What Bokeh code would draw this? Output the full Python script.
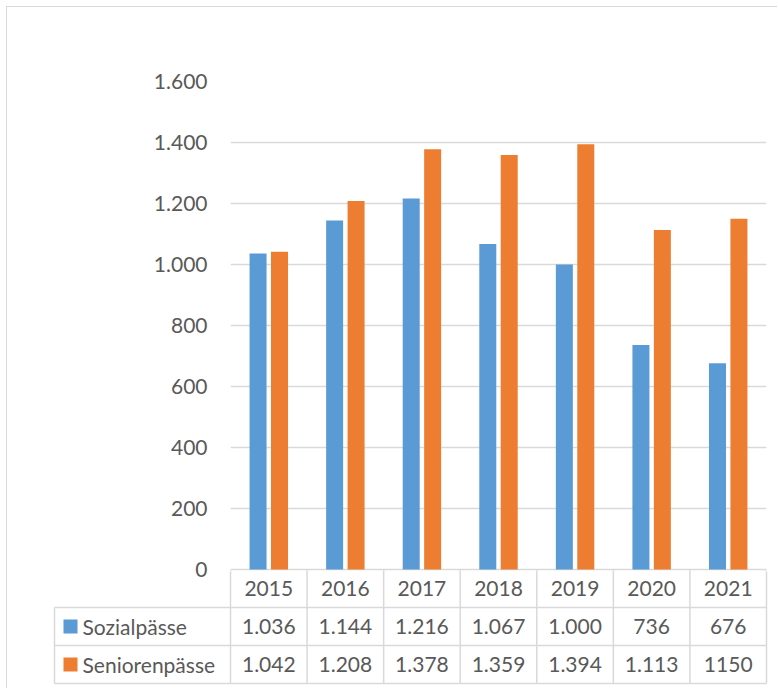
from bokeh.plotting import figure
from bokeh.models import Range1d, FixedTicker, CustomJSTickFormatter, ColumnDataSource
from bokeh.embed import file_html
from bokeh.resources import INLINE
from bokeh.core.properties import value

# ---------------- data ----------------
years = ["2015", "2016", "2017", "2018", "2019", "2020", "2021"]
sozial = [1036, 1144, 1216, 1067, 1000, 736, 676]
senioren = [1042, 1208, 1378, 1359, 1394, 1113, 1150]
sozial_labels = ["1.036", "1.144", "1.216", "1.067", "1.000", "736", "676"]
senioren_labels = ["1.042", "1.208", "1.378", "1.359", "1.394", "1.113", "1150"]
series_names = ["Sozialpässe", "Seniorenpässe"]
y_ticks = [0, 200, 400, 600, 800, 1000, 1200, 1400, 1600]

# ---------------- style ----------------
BLUE = "#5B9BD5"
ORANGE = "#ED7D31"
TEXT = "#595959"
LINE = "#D9D9D9"
FONT = "Lato"
FS = "21px"

# ---------------- geometry (window pixels) ----------------
OX, OY = 7, 7            # content origin (after outer border)
PL, PR = 230, 766        # plot area left / right
PT, P0 = 81, 569         # y pixel of 1600 and of 0
CH_BOTTOM = 571          # bottom of chart frame
CH_FIG_BOTTOM = 602      # bottom of chart figure (room for the "0" label)
ROW = 38                 # table row height
unit = (PR - PL) / 7.0
pxv = (P0 - PT) / 1600.0
W = 778 - OX

n = len(years)
centers = [i + 0.5 for i in range(n)]
OFF = 0.14
BW = 0.222

chart = figure(width=W, height=CH_FIG_BOTTOM - OY,
               x_range=Range1d(0, n), y_range=Range1d(-(CH_BOTTOM - P0) / pxv, 1600),
               output_backend="svg", toolbar_location=None,
               x_axis_location=None,
               min_border_left=PL - OX, min_border_right=778 - PR,
               min_border_top=PT - OY, min_border_bottom=CH_FIG_BOTTOM - CH_BOTTOM,
               styles={"position": "absolute", "left": "6px", "top": "6px",
                       "border-left": "1px solid #D9D9D9",
                       "border-top": "1px solid #D9D9D9"})
chart.outline_line_color = None
chart.background_fill_color = "white"
chart.border_fill_color = "white"
chart.xgrid.visible = False

src = ColumnDataSource(dict(
    xs=[c - OFF for c in centers], xo=[c + OFF for c in centers],
    sozial=sozial, senioren=senioren, year=years))
chart.vbar(x="xs", top="sozial", width=BW, bottom=0, source=src,
           fill_color=BLUE, line_color=None)
chart.vbar(x="xo", top="senioren", width=BW, bottom=0, source=src,
           fill_color=ORANGE, line_color=None)

# stubs of table column lines that reach up to the 0 line
chart.segment(x0=list(range(n + 1)), x1=list(range(n + 1)),
              y0=[-50] * (n + 1), y1=[0] * (n + 1),
              line_color=LINE, line_width=1.5)

ya = chart.yaxis[0]
ya.ticker = FixedTicker(ticks=y_ticks)
ya.formatter = CustomJSTickFormatter(
    code="return tick.toString().replace(/\\B(?=(\\d{3})+(?!\\d))/g, '.');")
ya.axis_line_color = None
ya.major_tick_line_color = None
ya.minor_tick_line_color = None
ya.major_tick_in = 0
ya.major_tick_out = 0
ya.major_label_standoff = 23
ya.major_label_text_font = FONT
ya.major_label_text_font_size = FS
ya.major_label_text_color = TEXT
chart.ygrid.grid_line_color = LINE
chart.ygrid.grid_line_width = 1.5

# ---------------- data table ----------------
TL, TR = 52, 768
TB = 688
table = figure(width=W, height=TB - CH_BOTTOM,
               x_range=Range1d((TL - PL) / unit, (TR - PL) / unit),
               y_range=Range1d(-(TB - (P0 + 3 * ROW)) / ROW, 3 - (CH_BOTTOM - P0) / ROW),
               output_backend="svg", toolbar_location=None,
               x_axis_location=None, y_axis_location=None,
               min_border_left=TL - OX, min_border_right=778 - TR,
               min_border_top=0, min_border_bottom=0,
               styles={"position": "absolute", "left": "6px", "top": "%dpx" % CH_BOTTOM,
                       "border-left": "1px solid #D9D9D9"})
table.outline_line_color = None
table.background_fill_alpha = 0
table.border_fill_alpha = 0
table.xgrid.visible = False
table.ygrid.visible = False

label_left = (54 - PL) / unit
# horizontal lines
table.segment(x0=[label_left] * 3, x1=[n] * 3, y0=[2, 1, 0], y1=[2, 1, 0],
              line_color=LINE, line_width=1.5)
# vertical lines
table.segment(x0=[label_left] + list(range(n + 1)), x1=[label_left] + list(range(n + 1)),
              y0=[0] * (n + 2), y1=[2] + [3.2] * (n + 1),
              line_color=LINE, line_width=1.5)

tsrc = ColumnDataSource(dict(x=centers, year=years, s1=sozial_labels, s2=senioren_labels))
common = dict(text_font=value(FONT), text_font_size=FS, text_color=TEXT,
              text_align="center", text_baseline="middle")
table.text(x="x", y=2.5, text="year", source=tsrc, **common)
table.text(x="x", y=1.5, text="s1", source=tsrc, **common)
table.text(x="x", y=0.5, text="s2", source=tsrc, **common)

lx = (82 - PL) / unit
table.text(x=[lx, lx], y=[1.5, 0.5], text=series_names,
           text_font=value(FONT), text_font_size=FS, text_color=TEXT,
           text_align="left", text_baseline="middle")
sx = (70 - PL) / unit
table.scatter(x=[sx, sx], y=[1.5, 0.5], marker="square", size=14,
              fill_color=[BLUE, ORANGE], line_color=None)

open("out.html", "w").write(file_html([chart, table], INLINE))
